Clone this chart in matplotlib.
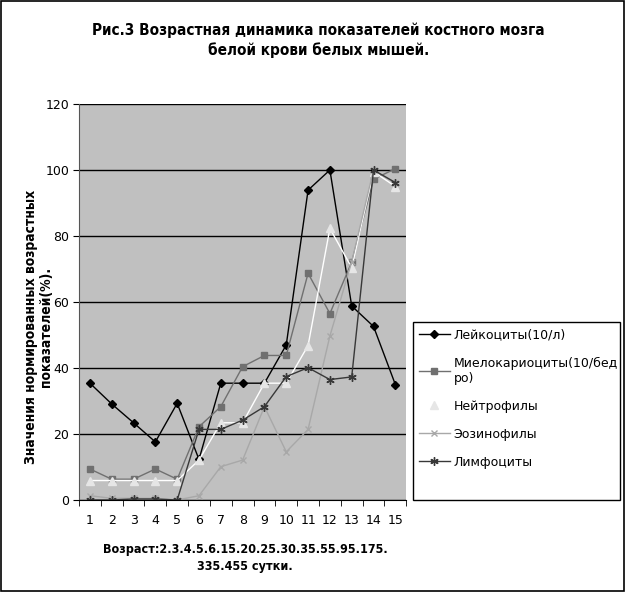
import matplotlib.pyplot as plt
import numpy as np
from matplotlib.patches import Rectangle

ages = list(range(1, 16))
leuko = [35.4, 29.1, 23.4, 17.6, 29.3, 12.3, 35.4, 35.4, 35.4, 47.0, 93.9, 100.0, 58.8, 52.6, 35.0]
myelo = [9.4, 6.3, 6.3, 9.4, 6.3, 22.2, 28.3, 40.4, 43.8, 43.8, 68.7, 56.5, 72.1, 97.2, 100.4]
neutro = [5.9, 5.9, 5.9, 5.9, 5.9, 12.1, 23.4, 23.4, 35.4, 35.4, 46.8, 82.3, 70.4, 99.5, 95.0]
eosino = [1.3, 0.5, 0.5, 0.5, 0.0, 1.3, 10.1, 12.1, 28.3, 14.6, 21.4, 49.7, 72.2, 100.0, 96.0]
lympho = [0.0, 0.0, 0.3, 0.3, 0.0, 21.4, 21.4, 24.2, 28.3, 37.4, 40.1, 36.5, 37.3, 100.0, 96.2]

labels = ["Лейкоциты(10/л)", "Миелокариоциты(10/бед\nро)", "Нейтрофилы",
          "Эозинофилы", "Лимфоциты"]

fig = plt.figure(figsize=(6.25, 5.92), dpi=100)
ax = fig.add_axes([0.1264, 0.1554, 0.5236, 0.6689])
ax.set_facecolor("#c0c0c0")

x = np.array(ages)
ax.plot(x, leuko, color="black", lw=1, marker="D", ms=4, mfc="black", mec="black", label=labels[0])
ax.plot(x, myelo, color="#707070", lw=1, marker="s", ms=4.5, mfc="#707070", mec="#707070", label=labels[1])
ax.plot(x, neutro, color="white", lw=1, marker="^", ms=6, mfc="#e6e6e6", mec="#e6e6e6", label=labels[2])
ax.plot(x, eosino, color="#a8a8a8", lw=1, marker="x", ms=5, mec="#a8a8a8", label=labels[3])
ax.plot(x, lympho, color="#383838", lw=1, marker=(6, 2, 0), ms=6, mec="#383838", label=labels[4])

ax.set_xlim(0.5, 15.5)
ax.set_ylim(0, 120)
ax.set_yticks(range(0, 121, 20))
ax.yaxis.grid(True, color="black", lw=1)
ax.set_axisbelow(True)
ax.set_xticks(x)
ax.set_xticklabels([str(a) for a in ages], fontsize=9)
ax.set_xticks(np.arange(0.5, 15.6, 1), minor=True)
ax.tick_params(axis="x", which="major", length=0, pad=10)
ax.tick_params(axis="x", which="minor", length=4, direction="out")
ax.tick_params(axis="y", length=4, direction="out", labelsize=9, pad=3)
for s in ["top", "right"]:
    ax.spines[s].set_visible(False)
ax.spines["left"].set_color("#555555")
ax.spines["bottom"].set_color("black")

fig.text(0.509, 0.962, "Рис.3 Возрастная динамика показателей костного мозга\nбелой крови белых мышей.",
         ha="center", va="top", fontsize=11, fontweight="bold", fontstretch="condensed",
         linespacing=1.35)
fig.text(0.392, 0.083, "Возраст:2.3.4.5.6.15.20.25.30.35.55.95.175.\n335.455 сутки.",
         ha="center", va="top", fontsize=9, fontweight="bold", fontstretch="condensed",
         linespacing=1.45)
fig.text(0.062, 0.448, "Значения нормированных возрастных\nпоказателей(%).",
         ha="center", va="center", rotation=90, fontsize=10, fontweight="bold",
         fontstretch="condensed", linespacing=1.05)

leg = ax.legend(loc="upper left", bbox_to_anchor=(0.664, 0.451), bbox_transform=fig.transFigure,
                fontsize=9, frameon=False,
                handlelength=2.5, labelspacing=1.2, borderaxespad=0, borderpad=0.3,
                handletextpad=0.3)

fig.patches.append(Rectangle((0.661, 0.1554), 0.331, 0.301, transform=fig.transFigure,
                             fill=False, edgecolor="black", lw=1))
fig.patches.append(Rectangle((0.002, 0.002), 0.996, 0.996, transform=fig.transFigure,
                             fill=False, edgecolor="black", lw=1.2))

fig.savefig("out.png", dpi=100)
